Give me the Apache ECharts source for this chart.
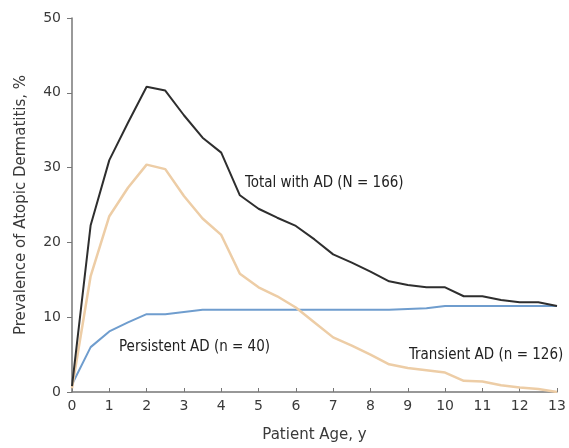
<!DOCTYPE html>
<html><head><meta charset="utf-8">
<script src="https://cdn.jsdelivr.net/npm/echarts@6/dist/echarts.min.js"></script>
<style>html,body{margin:0;padding:0;background:#fff}#c{width:569px;height:448px}</style>
</head><body><div id="c"></div>
<script>
const ages = [0,0.5,1,1.5,2,2.5,3,3.5,4,4.5,5,5.5,6,6.5,7,7.5,8,8.5,9,9.5,10,10.5,11,11.5,12,12.5,13];
const totalAD = [0.8,22.3,31,36,40.8,40.3,37,34,32,26.3,24.5,23.3,22.2,20.4,18.4,17.3,16.1,14.8,14.3,14.0,14.0,12.8,12.8,12.3,12.0,12.0,11.5];
const transientAD = [0.5,15.5,23.5,27.3,30.4,29.8,26.2,23.2,21,15.8,14,12.8,11.3,9.3,7.3,6.2,5.0,3.7,3.2,2.9,2.6,1.5,1.4,0.9,0.6,0.4,0];
const persistentAD = [1,6,8.1,9.3,10.4,10.4,10.7,11,11,11,11,11,11,11,11,11,11,11,11.1,11.2,11.5,11.5,11.5,11.5,11.5,11.5,11.5];
const xTicks = [0,1,2,3,4,5,6,7,8,9,10,11,12,13];
const yTicks = [0,10,20,30,40,50];
const xName = 'Patient Age, y';
const yName = 'Prevalence of Atopic Dermatitis, %';
const annTotal = 'Total with AD (N = 166)';
const annPersistent = 'Persistent AD (n = 40)';
const annTransient = 'Transient AD (n = 126)';

const FONT = '"DejaVu Sans", sans-serif';
const NARROW = '"Liberation Sans Narrow", "DejaVu Sans Condensed", sans-serif';
const chart = echarts.init(document.getElementById('c'), null, {renderer:'canvas'});
const pair = (ys) => ages.map((a,i)=>[a, ys[i]]);
chart.setOption({
  animation:false,
  backgroundColor:'#fff',
  grid:{left:72, right:12, top:18, bottom:55},
  xAxis:{type:'value', min:0, max:13, interval:1,
    name:xName, nameLocation:'middle', nameGap:36,
    nameTextStyle:{fontFamily:FONT, fontSize:15, color:'#3a3a3a'},
    axisLine:{show:true, lineStyle:{color:'#777', width:1.5}},
    axisTick:{show:true, inside:true, length:4, lineStyle:{color:'#777'}},
    axisLabel:{fontFamily:FONT, fontSize:14, color:'#3a3a3a', margin:7,
      formatter:(v)=> xTicks.includes(v) ? String(v) : ''},
    splitLine:{show:false}},
  yAxis:{type:'value', min:0, max:50, interval:10,
    name:yName, nameLocation:'middle', nameGap:43, nameRotate:90,
    nameTextStyle:{fontFamily:FONT, fontSize:15, color:'#3a3a3a'},
    axisLine:{show:true, lineStyle:{color:'#777', width:1.5}},
    axisTick:{show:true, length:5, lineStyle:{color:'#777'}},
    axisLabel:{fontFamily:FONT, fontSize:14, color:'#3a3a3a', margin:11,
      formatter:(v)=> yTicks.includes(v) ? String(v) : ''},
    splitLine:{show:false}},
  series:[
    {type:'line', data:pair(persistentAD), showSymbol:false, lineStyle:{color:'#6f9dce', width:2}, z:2},
    {type:'line', data:pair(transientAD), showSymbol:false, lineStyle:{color:'#edcda6', width:2.5}, z:3},
    {type:'line', data:pair(totalAD), showSymbol:false, lineStyle:{color:'#2e2e2e', width:2}, z:4}
  ],
  graphic:[
    {type:'text', left:245, top:176, style:{text:annTotal, font:'15px '+NARROW, fill:'#222'}},
    {type:'text', left:119, top:340, style:{text:annPersistent, font:'15px '+NARROW, fill:'#222'}},
    {type:'text', left:409, top:348, style:{text:annTransient, font:'15px '+NARROW, fill:'#222'}}
  ]
});
</script></body></html>
